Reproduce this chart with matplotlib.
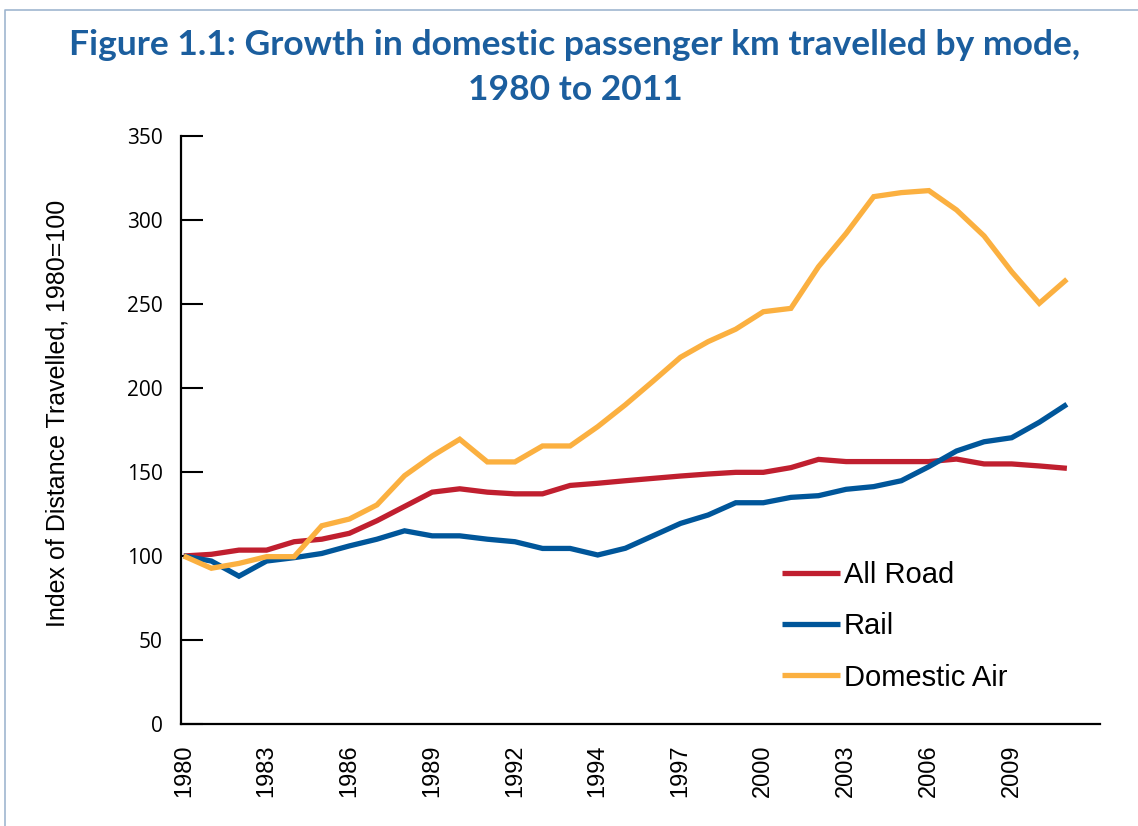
import matplotlib
matplotlib.use("Agg")
import matplotlib.pyplot as plt
from matplotlib.lines import Line2D

# ---- data ----
categories = [str(y) for y in range(1980, 1994)] + ["1993"] + [str(y) for y in range(1994, 2012)]
all_road = [100, 101, 103.5, 103.5, 108.5, 110, 113.5, 121, 129.5, 138, 140, 138, 137, 137,
            142, 143.3, 144.8, 146.2, 147.6, 148.8, 149.8, 149.8, 152.6, 157.5, 156.2, 156.2,
            156.2, 156.2, 157.7, 154.8, 154.8, 153.6, 152.2]
rail = [100, 97, 88, 97, 99, 101.5, 106, 110, 115, 112, 112, 110, 108.5, 104.5, 104.5,
        100.6, 104.6, 112, 119.4, 124.4, 131.7, 131.7, 134.9, 135.9, 139.7, 141.3, 144.8,
        153.2, 162.5, 168, 170.4, 179.6, 190.3]
domestic_air = [100, 92.7, 95.6, 99.6, 99.6, 118, 122, 130.4, 147.8, 159.5, 169.5, 156, 156,
                165.5, 165.5, 177, 190, 204, 218.3, 227.6, 235, 245.4, 247.4, 272.2, 292,
                313.9, 316.3, 317.5, 306, 290.5, 269.2, 250.4, 264.7]
tick_idx = [0, 3, 6, 9, 12, 15, 18, 21, 24, 27, 30]
tick_labels = ["1980", "1983", "1986", "1989", "1992", "1994", "1997", "2000", "2003", "2006", "2009"]
y_ticks = [0, 50, 100, 150, 200, 250, 300, 350]
series_names = ["All Road", "Rail", "Domestic Air"]

W, H = 1138, 826
fig = plt.figure(figsize=(W / 100, H / 100), dpi=100)
fig.patch.set_facecolor("white")

ax = fig.add_axes([181 / W, 1 - 724 / H, (1100 - 181) / W, (724 - 136) / H])
x = list(range(len(categories)))
colors = ["#C01F2F", "#00569A", "#FBB040"]
for vals, name, c in zip([all_road, rail, domestic_air], series_names, colors):
    ax.plot(x, vals, color=c, lw=3.8, label=name, solid_joinstyle="miter", solid_capstyle="butt")

ax.set_xlim(-0.1, 33.2)
ax.set_ylim(0, 350)
ax.set_yticks(y_ticks)
ax.set_yticklabels([str(v) for v in y_ticks], fontsize=15, family="Open Sans")
ax.set_xticks(tick_idx)
ax.set_xticklabels(tick_labels, rotation=90, fontsize=17, family="Liberation Sans")
ax.tick_params(axis="y", direction="in", length=16, width=1.5, pad=13, colors="black")
ax.tick_params(axis="x", length=0, pad=15)
for s in ["top", "right"]:
    ax.spines[s].set_visible(False)
for s in ["left", "bottom"]:
    ax.spines[s].set_linewidth(1.6)

ax.set_ylabel("Index of Distance Travelled, 1980=100", fontsize=18, family="Liberation Sans")
ax.yaxis.set_label_coords(70 / W, 0.5, transform=fig.transFigure)

leg = ax.legend(loc="upper left", bbox_to_anchor=(782 / W, 1 - 561 / H),
                bbox_transform=fig.transFigure, frameon=False,
                prop={"family": "Liberation Sans", "size": 21},
                handlelength=2.0, handletextpad=0.12, labelspacing=0.8,
                borderpad=0, borderaxespad=0)

title_color = "#1B5E9E"
fig.text(575 / W, 1 - 45 / H, "Figure 1.1: Growth in domestic passenger km travelled by mode,",
         ha="center", va="center", fontsize=25.5, fontweight="bold", family="Lato", color=title_color)
fig.text(575 / W, 1 - 90 / H, "1980 to 2011",
         ha="center", va="center", fontsize=25.5, fontweight="bold", family="Lato", color=title_color)

# thin frame lines around the figure
fig.add_artist(Line2D([5 / W, 5 / W, 1.0], [0.0, 1 - 10 / H, 1 - 10 / H],
                      transform=fig.transFigure, color="#9FB6CF", lw=1.2))

fig.savefig("out.png", dpi=100)
